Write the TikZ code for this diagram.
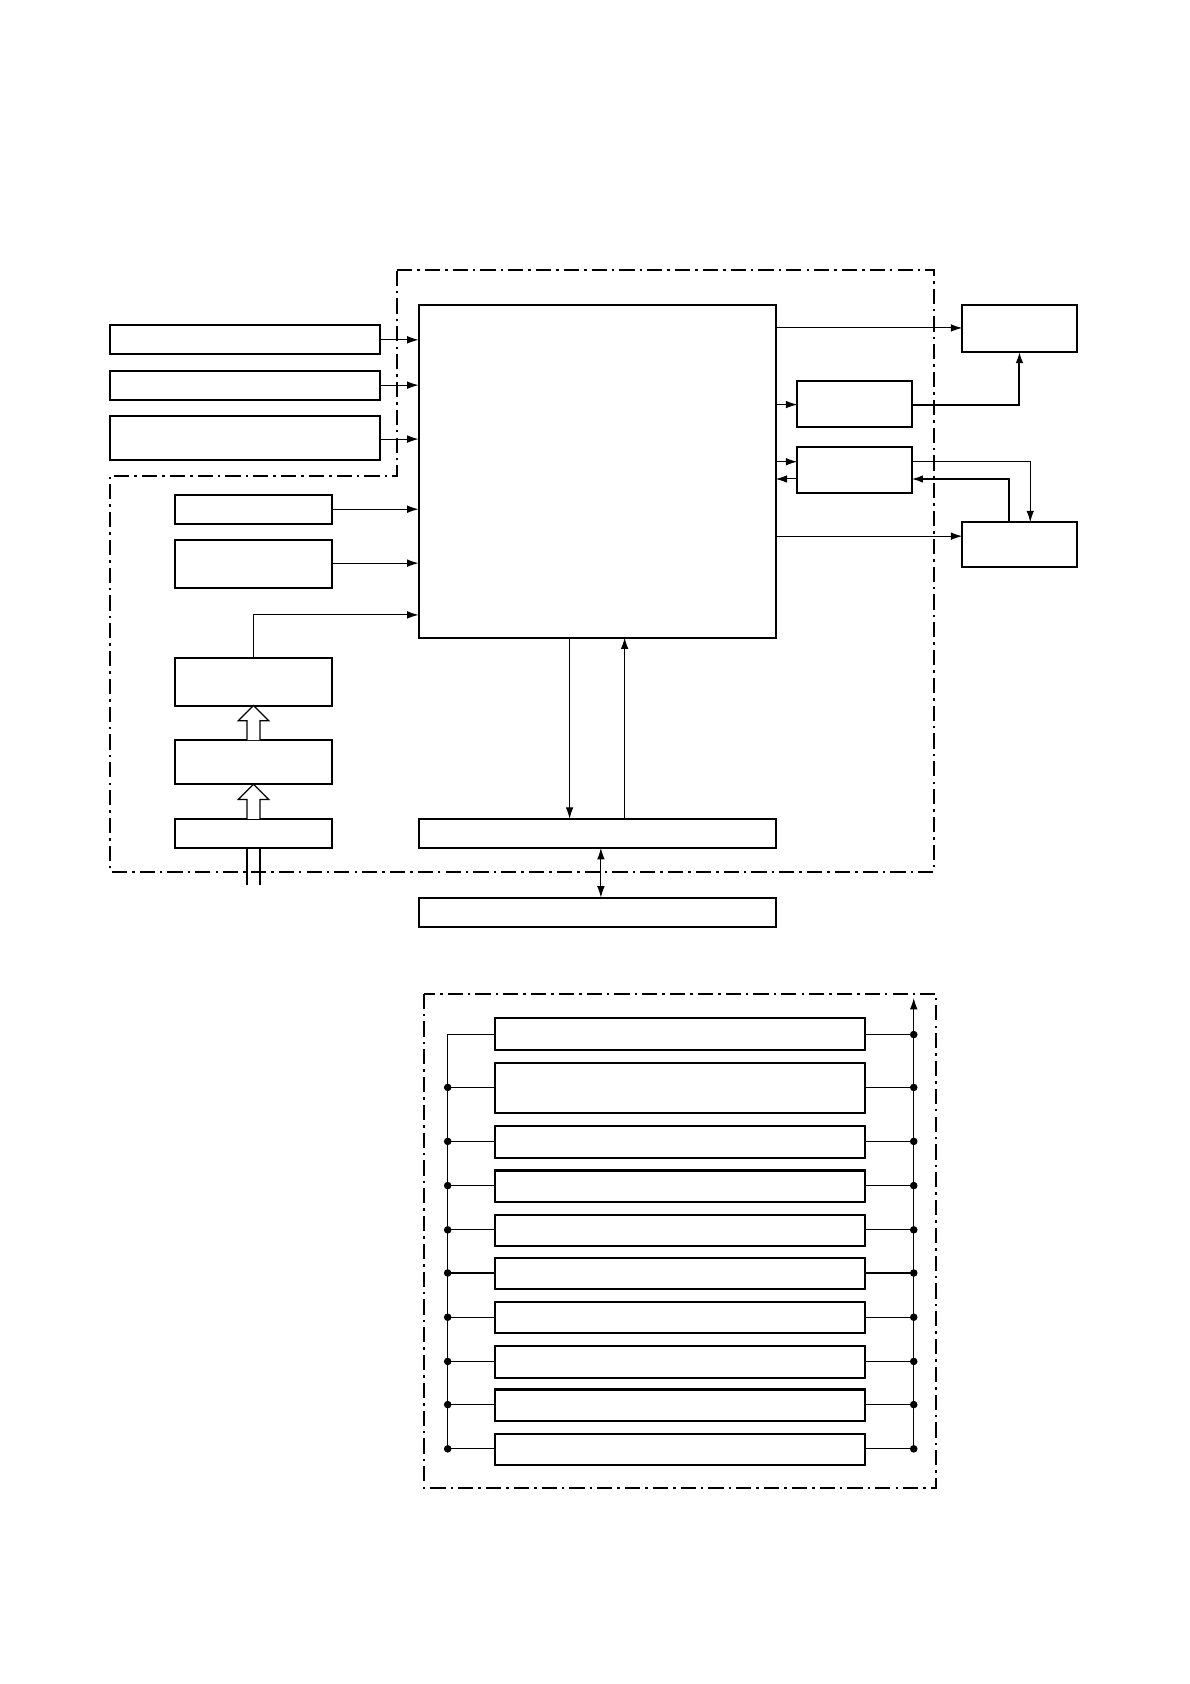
\documentclass[tikz,border=0pt]{standalone}
\usetikzlibrary{arrows.meta}
\begin{document}
\begin{tikzpicture}[x=0.03cm,y=-0.03cm,
  blk/.style={draw,line width=1.6pt},
  sig/.style={-{Latex[length=9pt,width=6pt]},line width=0.8pt},
  frame/.style={line width=1.6pt,dash pattern=on 12pt off 4pt on 2pt off 4pt},
  dot/.style={circle,fill,inner sep=0pt,minimum size=6pt}]
\useasboundingbox (0,0) rectangle (1103,1561);

% upper frame
\draw[frame] (368,250) -- (866,250) -- (866,808) -- (102,808) -- (102,441) -- (368,441) -- cycle;

\draw[blk] (388,283) rectangle (719,591);
\draw[blk] (102,301) rectangle (352,328);
\draw[blk] (102,344) rectangle (352,371);
\draw[blk] (102,386) rectangle (352,426);
\draw[blk] (162,459) rectangle (308,486);
\draw[blk] (162,501) rectangle (308,545);
\draw[blk] (162,610) rectangle (308,654);
\draw[blk] (162,686) rectangle (308,727);
\draw[blk] (162,759) rectangle (308,786);
\draw[blk] (892,283) rectangle (998,326);
\draw[blk] (739,353) rectangle (845,396);
\draw[blk] (739,414) rectangle (845,457);
\draw[blk] (892,484) rectangle (998,526);
\draw[blk] (388,759) rectangle (719,786);
\draw[blk] (388,832) rectangle (719,859);

% inputs
\foreach \y in {315,357,407} \draw[sig] (352,\y) -- (388,\y);
\foreach \y in {472,522} \draw[sig] (308,\y) -- (388,\y);
\draw[sig] (235,610) -- (235,570) -- (388,570);

% hollow arrows
\foreach \t/\b in {654/686,727/759}
  \draw[line width=1pt,fill=white] (229,\b) -- (229,\t+14) -- (221,\t+14) -- (235,\t) -- (249,\t+14) -- (241,\t+14) -- (241,\b);
\draw[line width=1pt] (229,786) -- (229,820) (241,786) -- (241,820);

% outputs
\draw[sig] (719,304) -- (892,304);
\draw[sig] (719,375) -- (739,375);
\draw[sig,line width=1.6pt] (845,375) -- (945,375) -- (945,326);
\draw[sig] (719,428) -- (739,428);
\draw[sig] (739,444) -- (719,444);
\draw[sig] (845,428) -- (955,428) -- (955,484);
\draw[sig,line width=1.4pt] (935,484) -- (935,444) -- (845,444);
\draw[sig] (719,497) -- (892,497);

% bus
\draw[sig] (528,591) -- (528,759);
\draw[sig] (579,759) -- (579,591);
\draw[{Latex[length=9pt,width=6pt]}-{Latex[length=9pt,width=6pt]},line width=0.8pt] (557,786) -- (557,832);

% lower frame
\draw[frame] (393,921) rectangle (868,1379);
\foreach \t/\b in {944/973,985/1032,1044/1073,1085/1114,1126/1155,1166/1195,1207/1236,1248/1277,1288/1317,1329/1358}
  \draw[blk] (459,\t) rectangle (802,\b);
\draw[line width=1pt] (459,959) -- (415,959) -- (415,1343);
\draw[sig,line width=1pt] (847,1343) -- (847,925);
\draw[line width=1pt] (802,959) -- (847,959);
\node[dot] at (847,959) {};
\foreach \y in {1008,1058,1099,1140,1180,1221,1262,1302,1343} {
  \draw[line width=1pt] (415,\y) -- (459,\y) (802,\y) -- (847,\y);
  \node[dot] at (415,\y) {};
  \node[dot] at (847,\y) {};
}
\end{tikzpicture}
\end{document}
